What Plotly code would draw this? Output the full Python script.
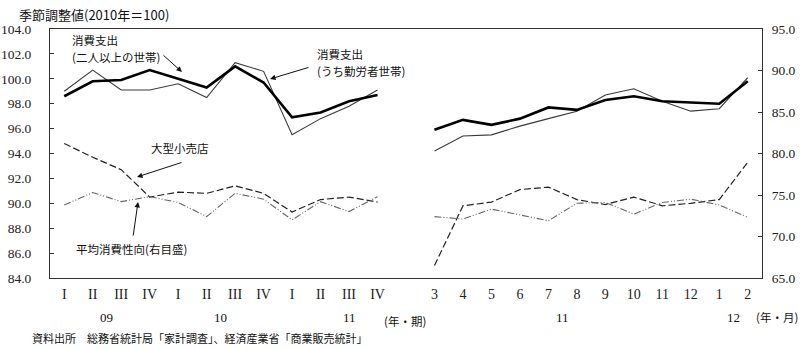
import plotly.graph_objects as go

# Category labels: 2009-2011 quarters, then Mar 2011 - Feb 2012 months
quarter_labels = ["I", "II", "III", "IV"] * 3
month_labels = ["3", "4", "5", "6", "7", "8", "9", "10", "11", "12", "1", "2"]
year_labels_q = ["09", "10", "11"]
year_labels_m = ["11", "12"]

# 消費支出(二人以上の世帯)  (2010=100)
spend_total_q = [98.6, 99.8, 99.9, 100.7, 100.0, 99.3, 101.0, 99.7, 96.9, 97.3, 98.2, 98.7]
spend_total_m = [95.9, 96.7, 96.3, 96.8, 97.7, 97.5, 98.3, 98.6, 98.2, 98.1, 98.0, 99.8]
# 消費支出(うち勤労者世帯)
spend_worker_q = [99.0, 100.7, 99.1, 99.1, 99.6, 98.5, 101.3, 100.6, 95.5, 96.8, 97.8, 99.1]
spend_worker_m = [94.2, 95.4, 95.5, 96.2, 96.8, 97.4, 98.7, 99.2, 98.2, 97.4, 97.6, 100.1]
# 大型小売店
retail_q = [94.8, 93.7, 92.7, 90.5, 90.9, 90.8, 91.4, 90.8, 89.3, 90.3, 90.5, 90.1]
retail_m = [85.0, 89.8, 90.1, 91.1, 91.3, 90.3, 89.9, 90.5, 89.8, 90.0, 90.3, 93.3]
# 平均消費性向 (right scale, %)
propensity_q = [73.8, 75.3, 74.2, 74.8, 74.1, 72.4, 75.2, 74.5, 72.0, 74.2, 73.0, 74.8]
propensity_m = [72.4, 72.1, 73.3, 72.6, 71.9, 74.0, 74.1, 72.7, 74.1, 74.5, 73.8, 72.3]

left_ticks = [84.0, 86.0, 88.0, 90.0, 92.0, 94.0, 96.0, 98.0, 100.0, 102.0, 104.0]
right_ticks = [65.0, 70.0, 75.0, 80.0, 85.0, 90.0, 95.0]

# x positions: quarters 0..11, one empty slot, months 13..24
xq = list(range(12))
xm = list(range(13, 25))
xs = xq + [12] + xm
tick_text = quarter_labels + month_labels


def joined(q, m):
    return q + [None] + m


W, H = 800, 350
ML, MR, MT, MB = 50, 38, 29, 72
PW, PH = W - ML - MR, H - MT - MB


def px(xp):
    return (xp - ML) / PW


def py(yp):
    return (H - MB - yp) / PH


JP = "Noto Sans CJK JP"
SERIF = "Liberation Serif, DejaVu Serif, serif"

fig = go.Figure()
fig.add_trace(go.Scatter(x=xs, y=joined(spend_worker_q, spend_worker_m), mode="lines",
                         line=dict(color="#3a3a3a", width=1.1), connectgaps=False,
                         name="消費支出(うち勤労者世帯)"))
fig.add_trace(go.Scatter(x=xs, y=joined(spend_total_q, spend_total_m), mode="lines",
                         line=dict(color="#000000", width=2.6), connectgaps=False,
                         name="消費支出(二人以上の世帯)"))
fig.add_trace(go.Scatter(x=xs, y=joined(retail_q, retail_m), mode="lines",
                         line=dict(color="#222222", width=1.2, dash="7px,3px"),
                         connectgaps=False, name="大型小売店"))
fig.add_trace(go.Scatter(x=xs, y=joined(propensity_q, propensity_m), mode="lines",
                         line=dict(color="#666666", width=1.1, dash="7px,2px,1px,2px,1px,2px"),
                         connectgaps=False, yaxis="y2", name="平均消費性向"))

fig.update_layout(
    width=W, height=H,
    margin=dict(l=ML, r=MR, t=MT, b=MB, pad=0, autoexpand=False),
    paper_bgcolor="white", plot_bgcolor="white",
    showlegend=False,
    xaxis=dict(range=[-0.5, 24.5], tickmode="array", tickvals=xq + xm, ticktext=tick_text,
               showgrid=False, zeroline=False, showline=True, linecolor="#333333",
               linewidth=1, mirror=True, ticks="", ticklabelstandoff=3, automargin=False,
               tickfont=dict(family=SERIF, size=14, color="#222222")),
    yaxis=dict(range=[84, 104], tickmode="array", tickvals=left_ticks,
               ticktext=[f"{v:.1f}" for v in left_ticks],
               showgrid=False, zeroline=False, showline=True, linecolor="#333333",
               linewidth=1, ticks="inside", ticklen=4, tickcolor="#333333",
               ticklabelstandoff=15, automargin=False,
               tickfont=dict(family=SERIF, size=13.5, color="#222222")),
    yaxis2=dict(range=[65, 95], overlaying="y", side="right", tickmode="array",
                tickvals=right_ticks, ticktext=[f"{v:.1f}" for v in right_ticks],
                showgrid=False, zeroline=False, showline=True, linecolor="#333333",
                linewidth=1, ticks="inside", ticklen=4, tickcolor="#333333",
                ticklabelstandoff=6, automargin=False,
                tickfont=dict(family=SERIF, size=13.5, color="#222222")),
)

ann = []


def text(x, y, s, size=12, family=JP, xanchor="left", xref="paper"):
    ann.append(dict(x=x, y=y, xref=xref, yref="paper", text=s, showarrow=False,
                    xanchor=xanchor, yanchor="middle", align="left",
                    font=dict(family=family, size=size, color="#111111")))


def arrow(tip, tail):
    ann.append(dict(x=px(tip[0]), y=py(tip[1]), xref="paper", yref="paper", text="",
                    showarrow=True, axref="pixel", ayref="pixel",
                    ax=tail[0] - tip[0], ay=tail[1] - tip[1],
                    arrowhead=2, arrowsize=1.1, arrowwidth=1, arrowcolor="#111111",
                    standoff=0, startstandoff=0))


# title
text(px(17), py(15), "季節調整値(2010年＝100)", size=13)
# series labels
text(px(70), py(40), "消費支出", size=11.5)
text(px(70), py(57), "(二人以上の世帯)", size=11.5)
arrow((182, 72), (162, 54))
text(px(315), py(54), "消費支出", size=11.5)
text(px(315), py(71), "(うち勤労者世帯)", size=11.5)
arrow((270, 79), (310, 67))
text(px(149), py(148), "大型小売店", size=11.5)
arrow((137, 177), (183, 162))
text(px(74), py(249), "平均消費性向(右目盛)", size=11.5)
arrow((138, 202), (133, 237))

# year labels under the category ticks
for lbl, xv in zip(year_labels_q, [1.5, 5.5, 10]):
    text(xv, py(317), lbl, size=13, family=SERIF, xanchor="center", xref="x")
for lbl, xv in zip(year_labels_m, [17.5, 23.5]):
    text(xv, py(317), lbl, size=13, family=SERIF, xanchor="center", xref="x")
text(px(382), py(321), "(年・期)", size=11.5)
text(px(754), py(317), "(年・月)", size=11.5)
# source note
text(px(30), py(338), "資料出所　総務省統計局「家計調査」、経済産業省「商業販売統計」", size=11)

fig.update_layout(annotations=ann)

fig.write_html("out.html", config={"displayModeBar": False})
